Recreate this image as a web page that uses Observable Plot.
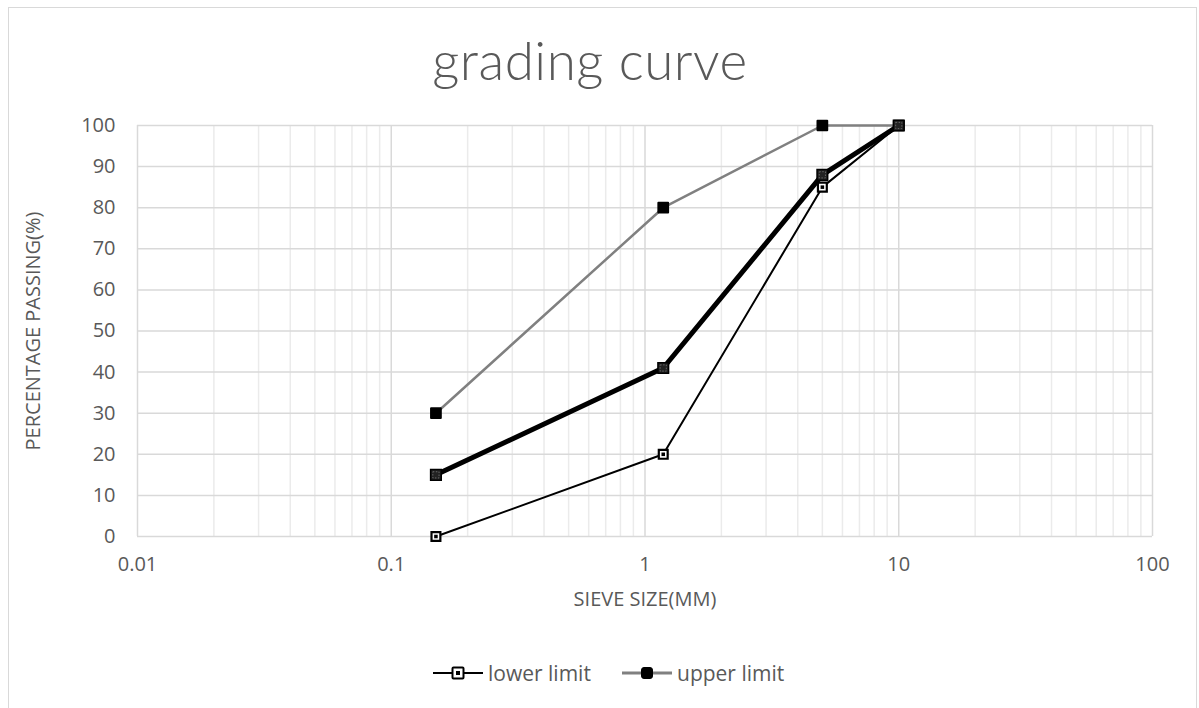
<!DOCTYPE html>
<html>
<head>
<meta charset="utf-8">
<script src="https://cdn.jsdelivr.net/npm/d3@7"></script>
<script src="https://cdn.jsdelivr.net/npm/@observablehq/plot@0.6"></script>
<style>
  html, body { margin: 0; padding: 0; background: #fff; width: 1199px; height: 708px; overflow: hidden; }
  #frame { position: absolute; left: 8px; top: 7px; width: 1189px; height: 720px; border: 1px solid #d9d9d9; box-sizing: border-box; }
  #title { position: absolute; left: 0; width: 1180px; top: 28px; text-align: center; font-family: Lato, "Open Sans", sans-serif; font-weight: 300; font-size: 53px; letter-spacing: 0.5px; color: #595959; line-height: 64px; }
  #chart { position: absolute; left: 0; top: 100px; }
  #legend { position: absolute; top: 661px; left: 0; width: 1199px; font-family: "Open Sans", Lato, sans-serif; font-size: 21px; color: #595959; }
  .item { position: absolute; display: flex; align-items: center; height: 24px; }
  .item svg { margin-right: 5px; }
</style>
</head>
<body>
<div id="frame"></div>
<div id="title">grading curve</div>
<div id="chart"></div>
<div id="legend"></div>
<script>
// Data
const sieveSizes = [0.15, 1.18, 5, 10];
const lowerLimit = [0, 20, 85, 100];
const upperLimit = [30, 80, 100, 100];
const sampleCurve = [15, 41, 88, 100];
const xTickValues = [0.01, 0.1, 1, 10, 100];
const xTickLabels = ["0.01", "0.1", "1", "10", "100"];
const yTickValues = [0, 10, 20, 30, 40, 50, 60, 70, 80, 90, 100];
const seriesNames = ["lower limit", "upper limit"];

const minorTicks = [];
for (let i = 0; i < xTickValues.length - 1; i++) {
  for (let m = 2; m <= 9; m++) minorTicks.push(xTickValues[i] * m);
}

const toRows = (vals) => sieveSizes.map((s, i) => ({size: s, pct: vals[i]}));
const lower = toRows(lowerLimit);
const upper = toRows(upperLimit);
const sample = toRows(sampleCurve);

const chart = Plot.plot({
  width: 1199,
  height: 540,
  marginLeft: 137,
  marginRight: 47,
  marginTop: 25,
  marginBottom: 104,
  x: {type: "log", domain: [0.01, 100]},
  y: {domain: [0, 100]},
  style: {fontFamily: "'Open Sans', Lato, sans-serif", fontSize: "20px", color: "#595959", background: "transparent", overflow: "visible"},
  marks: [
    Plot.ruleX(minorTicks, {stroke: "#ebebeb", strokeWidth: 1.5}),
    Plot.ruleX(xTickValues, {stroke: "#d9d9d9", strokeWidth: 1.5}),
    Plot.ruleY(yTickValues, {stroke: "#d9d9d9", strokeWidth: 1.5}),
    Plot.axisX(xTickValues, {tickSize: 0, tickPadding: 20, label: null, tickFormat: (d) => xTickLabels[xTickValues.indexOf(d)], fill: "#595959", fontSize: 20}),
    Plot.axisY(yTickValues, {tickSize: 0, tickPadding: 22, label: null, fill: "#595959", fontSize: 20}),
    Plot.text(["SIEVE SIZE(MM)"], {frameAnchor: "bottom", dy: 69, fill: "#595959", fontSize: 20, letterSpacing: "2px"}),
    Plot.text(["PERCENTAGE PASSING(%)"], {frameAnchor: "left", textAnchor: "middle", dx: -104, rotate: -90, fill: "#595959", fontSize: 20, letterSpacing: "2px"}),
    Plot.line(upper, {x: "size", y: "pct", stroke: "#808080", strokeWidth: 2.5}),
    Plot.line(lower, {x: "size", y: "pct", stroke: "#000", strokeWidth: 2}),
    Plot.line(sample, {x: "size", y: "pct", stroke: "#000", strokeWidth: 5}),
    Plot.dot(upper, {x: "size", y: "pct", symbol: "square", r: 5.5, fill: "#000", stroke: "#000", strokeWidth: 2, strokeLinejoin: "round"}),
    Plot.dot(lower, {x: "size", y: "pct", symbol: "square", r: 5, fill: "#fff", stroke: "#000", strokeWidth: 2.2}),
    Plot.dot(lower, {x: "size", y: "pct", symbol: "square", r: 2, fill: "#000"}),
    Plot.dot(sample, {x: "size", y: "pct", symbol: "square", r: 6, fill: "#222", stroke: "#000", strokeWidth: 1.5}),
    Plot.dot(sample, {x: "size", y: "pct", symbol: "square", r: 3.5, fill: "none", stroke: "#666", strokeWidth: 1, strokeDasharray: "1.5,1.5"})
  ]
});
document.getElementById("chart").appendChild(chart);

// Legend
const legend = document.getElementById("legend");
const specs = [
  {name: seriesNames[0], left: 433, stroke: "#000", sw: 2, fill: "#fff", inner: true},
  {name: seriesNames[1], left: 622, stroke: "#808080", sw: 3, fill: "#000", inner: false}
];
specs.forEach(s => {
  const div = document.createElement("div");
  div.className = "item";
  div.style.left = s.left + "px";
  div.innerHTML = `<svg width="50" height="24">
    <line x1="0" x2="50" y1="12" y2="12" stroke="${s.stroke}" stroke-width="${s.sw}"/>
    <rect x="19.5" y="6.5" width="11" height="11" rx="${s.inner ? 1 : 2.5}" fill="${s.fill}" stroke="#000" stroke-width="${s.inner ? 2 : 1}"/>
    ${s.inner ? '<rect x="23" y="10" width="4" height="4" fill="#000"/>' : ''}
  </svg><span>${s.name}</span>`;
  legend.appendChild(div);
});
</script>
</body>
</html>
